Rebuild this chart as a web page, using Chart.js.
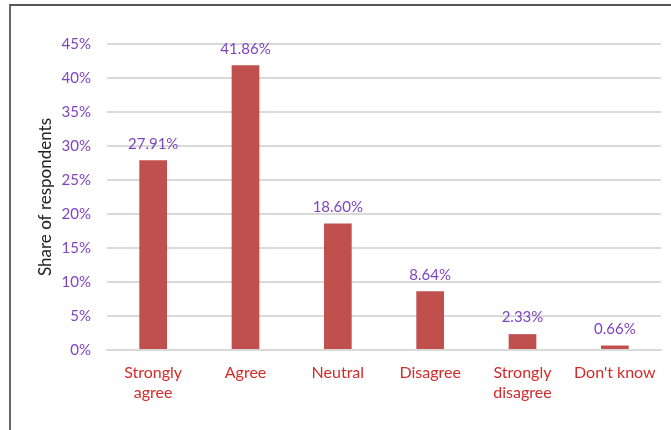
<!DOCTYPE html>
<html lang="en">
<head>
	<meta charset="UTF-8">
	<title>Share of respondents</title>
	<script src="https://cdn.jsdelivr.net/npm/chart.js"></script>
	<style>
		body, html {
			margin: 0;
			padding: 0;
			background: #ffffff;
			font-family: Lato, sans-serif;
		}
		.frame {
			position: absolute;
			left: 9px;
			top: 4px;
			width: 662px;
			height: 430px;
			border-left: 2px solid #666;
			border-top: 2px solid #555;
		}
		.chart-box {
			position: absolute;
			left: 0;
			top: 0;
			width: 671px;
			height: 430px;
		}
	</style>
</head>
<body>
	<div class="frame"></div>
	<div class="chart-box">
		<canvas id="surveyChart"></canvas>
	</div>

	<script>
		// 데이터
		const categories = [['Strongly', 'agree'], 'Agree', 'Neutral', 'Disagree', ['Strongly', 'disagree'], "Don't know"];
		const shares = [27.91, 41.86, 18.60, 8.64, 2.33, 0.66];
		const yTicks = [0, 5, 10, 15, 20, 25, 30, 35, 40, 45];

		const purple = '#7e44c0';
		const red = '#d42a2a';
		const barColor = '#c0504d';

		// 막대 위 값 표시
		const valueLabels = {
			id: 'valueLabels',
			afterDatasetsDraw(chart) {
				const ctx = chart.ctx;
				const meta = chart.getDatasetMeta(0);
				ctx.save();
				ctx.font = '15px Lato, sans-serif';
				ctx.fillStyle = purple;
				ctx.textAlign = 'center';
				ctx.textBaseline = 'bottom';
				meta.data.forEach((bar, i) => {
					ctx.fillText(shares[i].toFixed(2) + '%', bar.x, bar.y - 9);
				});
				ctx.restore();
			}
		};

		new Chart(document.getElementById('surveyChart'), {
			type: 'bar',
			data: {
				labels: categories,
				datasets: [{
					data: shares,
					backgroundColor: barColor,
					barPercentage: 0.3,
					categoryPercentage: 1
				}]
			},
			options: {
				responsive: true,
				maintainAspectRatio: false,
				animation: false,
				layout: {
					padding: { top: 44, right: 10, bottom: 0, left: 0 }
				},
				plugins: {
					legend: { display: false },
					tooltip: { enabled: false }
				},
				scales: {
					x: {
						grid: { display: false, drawTicks: false },
						border: { color: '#d9d9d9', width: 2 },
						ticks: {
							color: red,
							font: { family: 'Lato, sans-serif', size: 16, lineHeight: 1.3 },
							padding: 12,
							maxRotation: 0,
							autoSkip: false
						},
						afterFit(scale) { scale.height = 80; }
					},
					y: {
						min: 0,
						max: 45,
						afterBuildTicks(scale) {
							scale.ticks = yTicks.map(v => ({ value: v }));
						},
						grid: { color: '#d9d9d9', lineWidth: 2, drawTicks: false },
						border: { display: false },
						ticks: {
							color: purple,
							font: { family: 'Lato, sans-serif', size: 15 },
							padding: 16,
							callback: v => v + '%'
						},
						title: {
							display: true,
							text: 'Share of respondents',
							color: '#222',
							font: { family: 'Lato, sans-serif', size: 17 },
							padding: { top: 35, bottom: 0 }
						},
						afterFit(scale) { scale.width = 107; }
					}
				}
			},
			plugins: [valueLabels]
		});
	</script>
</body>
</html>
